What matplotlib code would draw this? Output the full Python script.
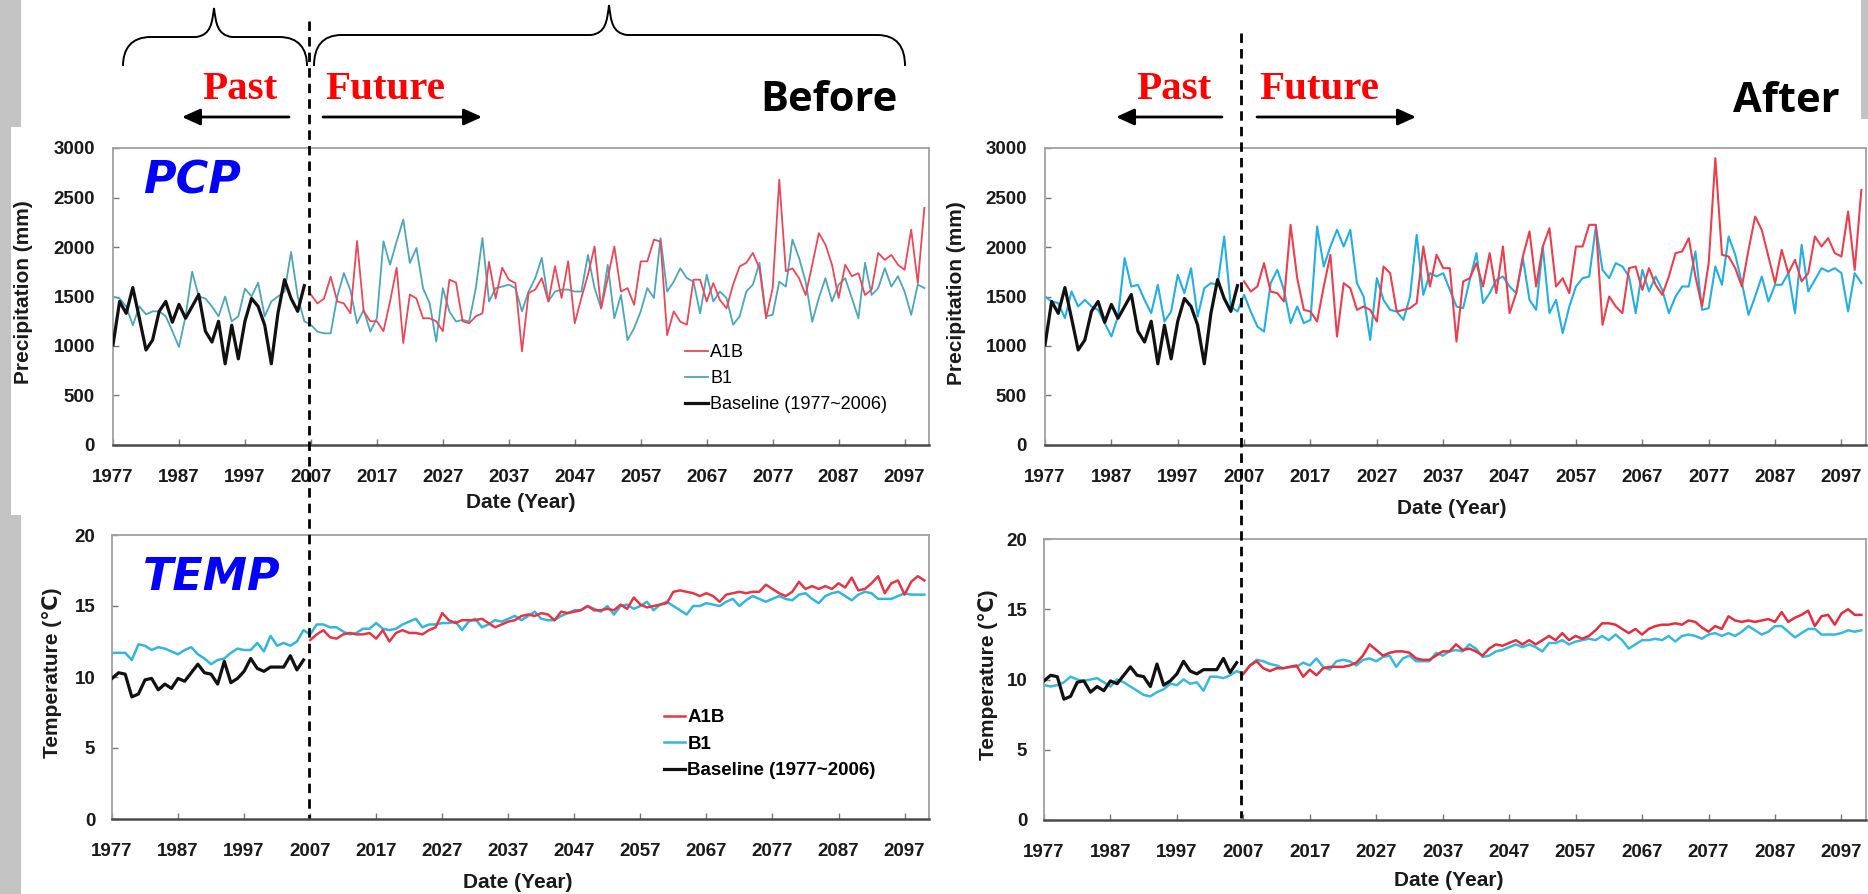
import numpy as np
import matplotlib
matplotlib.use('Agg')
import matplotlib.pyplot as plt
from matplotlib.path import Path
from matplotlib.patches import PathPatch, Rectangle, FancyArrowPatch
from matplotlib.lines import Line2D

plt.rcParams['font.family'] = ['Liberation Sans', 'DejaVu Sans']
plt.rcParams['font.weight'] = 'bold'

# ---------------- data ----------------
past_start, past_end = 1977, 2006
fut_start, fut_end = 2007, 2100
x_ticks = list(range(1977, 2098, 10))
pcp_ticks = [0, 500, 1000, 1500, 2000, 2500, 3000]
temp_ticks = [0, 5, 10, 15, 20]
legend_labels = ['A1B', 'B1', 'Baseline (1977~2006)']

pcp_baseline = [1010, 1450, 1330, 1590, 1280, 960, 1060, 1350, 1450, 1240,
                1420, 1280, 1400, 1520, 1150, 1040, 1250, 820, 1210, 870,
                1250, 1480, 1400, 1210, 820, 1330, 1670, 1480, 1350, 1610]

pcp_before_b1_past = [1500, 1480, 1400, 1210, 1400, 1320, 1350, 1350, 1300, 1150,
                      990, 1300, 1750, 1500, 1480, 1400, 1300, 1500, 1250, 1300,
                      1580, 1500, 1640, 1300, 1450, 1500, 1550, 1950, 1500, 1250]
pcp_before_a1b = [1520, 1430, 1480, 1700, 1450, 1430, 1330, 2060, 1350, 1250,
                  1250, 1150, 1450, 1790, 1030, 1520, 1480, 1280, 1280, 1250,
                  1150, 1670, 1640, 1250, 1230, 1300, 1330, 1850, 1480,
                  1790, 1670, 1635, 945, 1535, 1570, 1685, 1450, 1805, 1485,
                  1855, 1230, 1485, 1720, 2005, 1380, 1685, 2005, 1550, 1585,
                  1415, 1855, 1855, 2075, 2055, 1110, 1350, 1245, 1215, 1670,
                  1670, 1450, 1635, 1465, 1380, 1620, 1805, 1840, 1940, 1785,
                  1280, 1585, 2680, 1755, 1785, 1685, 1515, 1820, 2140, 2025,
                  1820, 1485, 1820, 1705, 1735, 1515, 1570, 1940, 1870, 1920,
                  1820, 1770, 2175, 1635, 2395]
pcp_before_b1 = [1213, 1145, 1128, 1128, 1500, 1736, 1560, 1230, 1365, 1145,
                 1280, 2057, 1821, 2057, 2277, 1838, 1990, 1584, 1432, 1044,
                 1584, 1348, 1247, 1264, 1247, 1584, 2091, 1449, 1584,
                 1600, 1620, 1585, 1350, 1550, 1685, 1890, 1450, 1550, 1570,
                 1570, 1550, 1550, 1920, 1585, 1380, 1820, 1280, 1515, 1060,
                 1180, 1350, 1585, 1485, 2090, 1550, 1650, 1785, 1685, 1650,
                 1330, 1720, 1450, 1550, 1485, 1215, 1300, 1550, 1620, 1840,
                 1300, 1315, 1650, 1600, 2075, 1890, 1650, 1245, 1485, 1685,
                 1450, 1620, 1685, 1485, 1280, 1840, 1515, 1585, 1785, 1600,
                 1705, 1550, 1315, 1620, 1585]

pcp_after_b1_past = [1500, 1450, 1433, 1281, 1551, 1399, 1466, 1399, 1365, 1231,
                     1096, 1298, 1887, 1601, 1618, 1466, 1332, 1618, 1247, 1348,
                     1719, 1534, 1786, 1298, 1584, 1635, 1618, 2106, 1399, 1348]
pcp_after_a1b = [1652, 1550, 1601, 1837, 1550, 1534, 1449, 2224, 1685, 1365,
                 1348, 1247, 1601, 1921, 1096, 1635, 1584, 1365, 1399, 1365,
                 1247, 1803, 1736, 1348, 1365, 1382, 1433, 2005, 1601, 1921,
                 1786, 1786,
                 1045, 1652, 1685, 1837, 1601, 1938, 1534, 2005, 1332, 1534,
                 1904, 2157, 1601, 2005, 2190, 1601, 1685, 1534, 2005, 2005,
                 2224, 2224, 1214, 1500, 1399, 1332, 1786, 1803, 1567, 1786,
                 1618, 1517, 1702, 1938, 1955, 2089, 1702, 1399, 1837, 2897,
                 1921, 1904, 1786, 1601, 1971, 2308, 2173, 1904, 1635, 1971,
                 1736, 1870, 1652, 1736, 2106, 2005, 2089, 1938, 1904, 2359,
                 1769, 2577]
pcp_after_b1 = [1517, 1348, 1197, 1146, 1635, 1769, 1567, 1231, 1399, 1231,
                1264, 2207, 1803, 2005, 2173, 2005, 2173, 1635, 1500, 1062,
                1685, 1466, 1365, 1348, 1264, 1500, 2123, 1517, 1736, 1702,
                1736, 1567,
                1399, 1382, 1668, 1938, 1433, 1534, 1668, 1702, 1601, 1534,
                1887, 1466, 1365, 2005, 1332, 1466, 1130, 1399, 1601, 1685,
                1702, 2207, 1769, 1685, 1837, 1803, 1702, 1332, 1769, 1551,
                1702, 1567, 1332, 1500, 1601, 1601, 1955, 1365, 1382, 1803,
                1618, 2106, 1921, 1635, 1315, 1500, 1702, 1449, 1618, 1618,
                1736, 1332, 2022, 1551, 1668, 1786, 1752, 1786, 1736, 1348,
                1736, 1635]

temp_baseline = [9.9, 10.3, 10.2, 8.6, 8.8, 9.8, 9.9, 9.1, 9.5, 9.2,
                 9.9, 9.7, 10.3, 10.9, 10.3, 10.2, 9.5, 11.1, 9.6, 9.9,
                 10.4, 11.3, 10.6, 10.4, 10.7, 10.7, 10.7, 11.5, 10.5, 11.2]

temp_before_b1_past = [11.7, 11.7, 11.7, 11.2, 12.3, 12.2, 11.9, 12.1, 12.0, 11.8,
                       11.6, 11.9, 12.1, 11.6, 11.3, 10.9, 11.2, 11.3, 11.7, 12.0,
                       11.9, 11.9, 12.4, 11.8, 12.9, 12.2, 12.4, 12.2, 12.5, 13.3]
temp_before_a1b = [12.6, 13.0, 13.3, 12.8, 12.7, 13.0, 13.1, 13.0, 13.0, 13.1,
                   12.7, 13.3, 12.5, 13.1, 13.3, 13.1, 13.1, 13.0, 13.3, 13.5,
                   14.5, 14.0, 13.8, 14.0, 14.0, 14.0, 14.1, 13.8, 13.5, 13.7,
                   13.9, 14.0, 14.3, 14.4, 14.3, 14.5, 14.4, 14.0, 14.6, 14.5,
                   14.6, 14.7, 15.0, 14.7, 14.7, 14.8, 14.7, 15.1, 14.8, 15.6,
                   15.1, 14.9, 15.0, 15.1, 15.2, 16.0, 16.1, 16.0, 15.9, 15.7,
                   15.9, 15.7, 15.3, 15.8, 15.9, 16.0, 15.9, 16.0, 16.0, 16.5,
                   16.2, 15.9, 15.7, 16.0, 16.7, 16.2, 16.4, 16.2, 16.4, 16.2,
                   16.6, 16.3, 17.0, 16.1, 16.2, 16.6, 17.1, 15.9, 16.6, 16.8,
                   15.8, 16.7, 17.1, 16.8]
temp_before_b1 = [13.0, 13.7, 13.7, 13.5, 13.5, 13.2, 13.0, 13.1, 13.4, 13.4,
                  13.8, 13.4, 13.3, 13.4, 13.7, 13.9, 14.1, 13.5, 13.7, 13.7,
                  13.8, 13.8, 13.9, 13.3, 13.9, 14.1, 13.5, 13.7, 14.0, 13.9,
                  14.1, 14.3, 14.0, 14.3, 14.6, 14.1, 14.0, 14.0, 14.3, 14.5,
                  14.7, 14.7, 15.0, 14.8, 14.6, 15.0, 14.4, 15.0, 15.1, 14.8,
                  15.0, 15.3, 14.7, 15.1, 15.3, 15.0, 14.7, 14.4, 15.0, 15.0,
                  15.2, 15.1, 15.0, 15.3, 15.5, 15.0, 15.4, 15.7, 15.5, 15.3,
                  15.5, 15.7, 15.5, 15.4, 15.8, 15.9, 15.5, 15.2, 15.7, 15.9,
                  16.0, 15.7, 15.4, 15.8, 16.0, 15.9, 15.5, 15.5, 15.5, 15.7,
                  15.9, 15.8, 15.8, 15.8]

temp_after_b1_past = [9.6, 9.5, 9.6, 9.8, 10.2, 10.0, 9.9, 10.0, 10.1, 9.8,
                      9.5, 10.0, 9.8, 9.5, 9.2, 8.9, 8.8, 9.1, 9.3, 9.7,
                      9.6, 10.0, 9.7, 9.8, 9.2, 10.2, 10.2, 10.1, 10.3, 10.6]
temp_after_a1b = [10.4, 11.0, 11.3, 10.8, 10.6, 10.8, 10.8, 10.9, 11.0, 10.2,
                  10.7, 10.3, 10.8, 10.9, 10.9, 10.9, 11.0, 11.2, 11.7, 12.5,
                  12.1, 11.7, 11.9, 12.0, 12.0, 11.9, 11.5, 11.4, 11.4, 11.7,
                  12.0, 12.0, 12.5, 12.1, 12.2, 12.0, 11.7, 12.2, 12.5, 12.4,
                  12.6, 12.8, 12.5, 12.8, 12.5, 12.8, 13.1, 12.8, 13.3, 12.8,
                  13.1, 12.9, 13.1, 13.5, 14.0, 14.0, 13.9, 13.6, 13.3, 13.6,
                  13.2, 13.6, 13.8, 13.9, 13.9, 14.0, 13.9, 14.2, 14.1, 13.7,
                  13.4, 13.8, 13.6, 14.5, 14.2, 14.1, 14.2, 14.1, 14.2, 14.3,
                  14.1, 14.8, 14.1, 14.4, 14.6, 14.9, 13.8, 14.5, 14.6, 13.9,
                  14.7, 15.0, 14.6, 14.6]
temp_after_b1 = [10.4, 11.0, 11.4, 11.3, 11.1, 11.0, 10.8, 10.9, 10.9, 11.2,
                 11.0, 11.5, 10.9, 10.7, 11.3, 11.4, 11.3, 11.0, 11.4, 11.5,
                 11.3, 11.6, 11.7, 10.9, 11.5, 11.7, 11.3, 11.3, 11.3, 11.9,
                 11.7, 12.0, 12.1, 12.0, 12.5, 12.2, 11.6, 11.7, 12.0, 12.1,
                 12.3, 12.5, 12.3, 12.5, 12.3, 12.0, 12.6, 12.6, 12.8, 12.5,
                 12.7, 12.8, 12.9, 12.8, 13.1, 12.8, 13.2, 12.8, 12.2, 12.5,
                 12.8, 12.8, 12.9, 12.8, 13.1, 12.7, 13.1, 13.2, 13.1, 12.9,
                 13.2, 13.3, 13.1, 13.3, 13.1, 13.4, 13.8, 13.5, 13.2, 13.4,
                 13.8, 13.8, 13.4, 13.0, 13.3, 13.6, 13.6, 13.2, 13.2, 13.2,
                 13.3, 13.5, 13.4, 13.5]

# ---------------- figure ----------------
W, H = 1868, 894
fig = plt.figure(figsize=(W / 100, H / 100), dpi=100)
fig.patch.set_facecolor('white')


def fx(x):
    return x / W


def fy(y):
    return 1 - y / H


TF = fig.transFigure
fig.add_artist(Rectangle((0, 0), fx(21), 1, transform=TF, facecolor='#c3c3c3',
                         edgecolor='none', zorder=-3))
fig.add_artist(Rectangle((fx(11), fy(515)), fx(935 - 11), (515 - 127) / H, transform=TF,
                         facecolor='white', edgecolor='none', zorder=-2))
fig.add_artist(Rectangle((fx(1861), fy(119)), fx(7), 119 / H, transform=TF,
                         facecolor='#c3c3c3', edgecolor='none', zorder=-3))

XMAX = 2100.7


def make_axes(left, top, right, bottom, ylim, yticks, ypad):
    ax = fig.add_axes([fx(left), fy(bottom), (right - left) / W, (bottom - top) / H])
    ax.set_xlim(1977, XMAX)
    ax.set_ylim(*ylim)
    ax.set_xticks(x_ticks)
    ax.set_yticks(yticks)
    ax.tick_params(axis='both', direction='in', length=4, width=1, color='#777777',
                   labelsize=13.5, labelcolor='#1a1a1a', top=False, right=False)
    ax.tick_params(axis='x', pad=17)
    ax.tick_params(axis='y', pad=ypad)
    for s in ['top', 'left', 'right']:
        ax.spines[s].set_color('#a0a0a0')
        ax.spines[s].set_linewidth(1.3)
    ax.spines['bottom'].set_color('#4a4a4a')
    ax.spines['bottom'].set_linewidth(1.8)
    ax.set_facecolor('none')
    return ax


yp = np.arange(past_start, past_end + 1)
yf = np.arange(fut_start, fut_end + 1)
yall = np.concatenate([yp, yf])


def plot_panel(ax, base, b1_past, a1b, b1, red, teal, lw_s, lw_b):
    ax.plot(yall, list(b1_past) + list(b1), color=teal, lw=lw_s, zorder=2)
    ax.plot(yf, a1b, color=red, lw=lw_s, zorder=3)
    ax.plot(yp, base, color='#111111', lw=lw_b, zorder=4)


# PCP before
ax1 = make_axes(113, 148, 929, 445, (0, 3000), pcp_ticks, 13)
plot_panel(ax1, pcp_baseline, pcp_before_b1_past, pcp_before_a1b, pcp_before_b1,
           '#e8495a', '#4fa5b8', 1.3, 2.3)
# PCP after
ax2 = make_axes(1045, 148, 1866, 445, (0, 3000), pcp_ticks, 13)
plot_panel(ax2, pcp_baseline, pcp_after_b1_past, pcp_after_a1b, pcp_after_b1,
           '#e8404f', '#25aee0', 1.5, 2.3)
# TEMP before
ax3 = make_axes(112, 535, 929, 819, (0, 20), temp_ticks, 12)
plot_panel(ax3, temp_baseline, temp_before_b1_past, temp_before_a1b, temp_before_b1,
           '#e33646', '#35b5dc', 1.8, 2.3)
# TEMP after
ax4 = make_axes(1044, 539, 1866, 820, (0, 20), temp_ticks, 12)
plot_panel(ax4, temp_baseline, temp_after_b1_past, temp_after_a1b, temp_after_b1,
           '#e0303f', '#3ab8dc', 1.8, 2.3)

# axis labels
lab = dict(fontsize=15, fontweight='bold', color='#1a1a1a', ha='center', va='center')
fig.text(fx(24), fy(292), 'Precipitation (mm)', rotation=90, **lab)
fig.text(fx(956), fy(293), 'Precipitation (mm)', rotation=90, **lab)
fig.text(fx(52), fy(673), 'Temperature (℃)', rotation=90, **lab)
fig.text(fx(988), fy(675), 'Temperature (℃)', rotation=90, **lab)
fig.text(fx(521), fy(503), 'Date (Year)', **lab)
fig.text(fx(1452), fy(508), 'Date (Year)', **lab)
fig.text(fx(518), fy(882), 'Date (Year)', **lab)
fig.text(fx(1449), fy(880), 'Date (Year)', **lab)

# legends
h1 = [Line2D([], [], color='#e8495a', lw=1.3), Line2D([], [], color='#4fa5b8', lw=1.3),
      Line2D([], [], color='#111111', lw=2.3)]
fig.legend(h1, legend_labels, loc='upper left', bbox_to_anchor=(fx(685), fy(344)),
           frameon=False, borderpad=0, borderaxespad=0, handlelength=1.3,
           handletextpad=0.1, labelspacing=0.5,
           prop=dict(family=['Liberation Sans', 'DejaVu Sans'], size=13, weight='normal'))
h2 = [Line2D([], [], color='#e33646', lw=1.8), Line2D([], [], color='#35b5dc', lw=1.8),
      Line2D([], [], color='#111111', lw=2.3)]
fig.legend(h2, legend_labels, loc='upper left', bbox_to_anchor=(fx(664), fy(709)),
           frameon=False, borderpad=0, borderaxespad=0, handlelength=1.1,
           handletextpad=0.15, labelspacing=0.5,
           prop=dict(family=['Liberation Sans', 'DejaVu Sans'], size=13.5, weight='bold'))

# PCP / TEMP tags
tag = dict(color='#0000ff', fontfamily='DejaVu Sans', fontweight='bold', fontstyle='italic',
           fontsize=32, ha='left', va='baseline')
fig.text(fx(143), fy(193), 'PCP', **tag)
fig.text(fx(143), fy(590), 'TEMP', **tag)

# dashed separators
for xd, yt in [(309, 21), (1241, 33)]:
    fig.add_artist(Line2D([fx(xd), fx(xd)], [fy(yt), fy(818)], transform=TF, color='black',
                          lw=2, dashes=(3.4, 2.2), zorder=10))


# arrows
def arrow(x0, x1, y):
    fig.add_artist(FancyArrowPatch((fx(x0), fy(y)), (fx(x1), fy(y)), transform=TF,
                                   arrowstyle='-|>,head_length=0.55,head_width=0.25',
                                   mutation_scale=20, lw=2, color='black',
                                   shrinkA=0, shrinkB=0, zorder=10))


arrow(289, 182, 117)
arrow(323, 482, 117)
arrow(1222, 1116, 117)
arrow(1257, 1416, 117)

# Past / Future / Before / After
pf = dict(color='#ff0000', fontfamily='Liberation Serif', fontweight='bold', fontsize=29.5,
          ha='left', va='baseline')
fig.text(fx(202), fy(99), 'Past', **pf)
fig.text(fx(325), fy(99), 'Future', **pf)
fig.text(fx(1136), fy(99), 'Past', **pf)
fig.text(fx(1259), fy(99), 'Future', **pf)
ba = dict(color='black', fontfamily=['Open Sans', 'DejaVu Sans'], fontweight='bold',
          fontsize=30, ha='left', va='baseline')
fig.text(fx(760), fy(111), 'Before', **ba)
fig.text(fx(1733), fy(112), 'After', **ba)


# braces
def brace(x0, x1, xm, ybase, ymid, ypeak):
    r = 28
    pts = [(x0, ybase), (x0, ymid + 12), (x0 + 8, ymid), (x0 + r, ymid),
           (xm - 18, ymid), (xm - 3, ymid - 2), (xm - 2, ymid - 14), (xm, ypeak),
           (xm + 2, ymid - 14), (xm + 3, ymid - 2), (xm + 18, ymid),
           (x1 - r, ymid), (x1 - 8, ymid), (x1, ymid + 12), (x1, ybase)]
    codes = [Path.MOVETO, Path.CURVE4, Path.CURVE4, Path.CURVE4,
             Path.LINETO, Path.CURVE4, Path.CURVE4, Path.CURVE4,
             Path.CURVE4, Path.CURVE4, Path.CURVE4,
             Path.LINETO, Path.CURVE4, Path.CURVE4, Path.CURVE4]
    verts = [(fx(a), fy(b)) for a, b in pts]
    fig.add_artist(PathPatch(Path(verts, codes), transform=TF, facecolor='none',
                             edgecolor='black', lw=1.4, zorder=10))


brace(123, 307, 214, 66, 37, 8)
brace(314, 905, 609, 66, 35, 5)

fig.savefig('out.png', dpi=100, facecolor='white')
